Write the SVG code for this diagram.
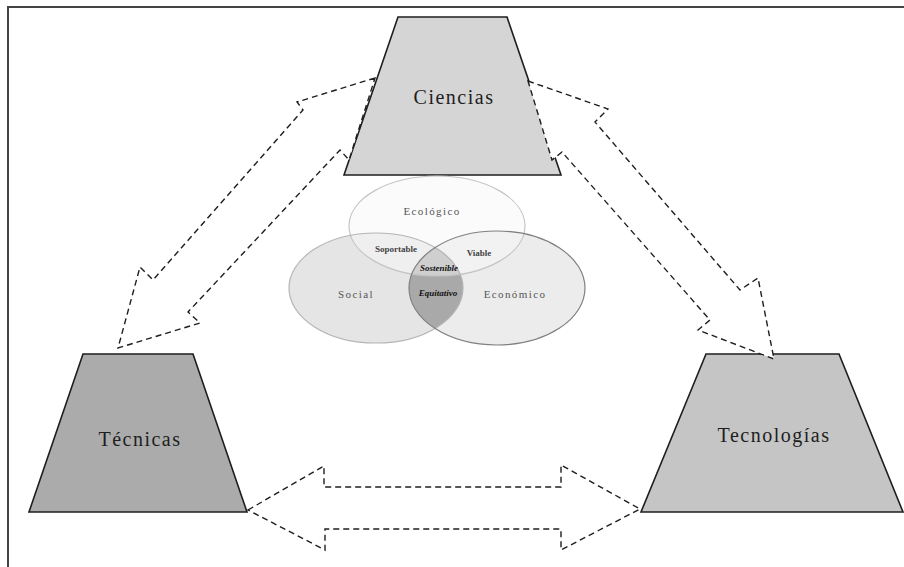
<svg xmlns="http://www.w3.org/2000/svg" width="904" height="567" viewBox="0 0 904 567">
<style>
.trap{stroke:#1e1e1e;stroke-width:1.6;stroke-linejoin:miter}
.lbl{font-family:"Liberation Serif","Times New Roman",serif;font-size:20px;letter-spacing:1.5px;fill:#1e1e1e;text-anchor:middle}
.arrow{fill:#ffffff;stroke:#1e1e1e;stroke-width:1.4;stroke-dasharray:6 4;stroke-linejoin:miter}
.vtxt{font-family:"Liberation Serif",serif;font-size:11px;letter-spacing:1.4px;fill:#555;text-anchor:middle}
.vsmall{font-family:"Liberation Serif",serif;font-size:9px;font-weight:bold;fill:#444;text-anchor:middle}
.vin{font-family:"Liberation Serif",serif;font-size:9px;font-weight:bold;font-style:italic;fill:#111;text-anchor:middle}
</style>
<defs>
<clipPath id="cSocial"><ellipse cx="376" cy="288" rx="87" ry="55"/></clipPath>
<clipPath id="cEcon"><ellipse cx="497" cy="288" rx="88" ry="57"/></clipPath>
</defs>
<rect x="0" y="0" width="904" height="567" fill="#ffffff"/>
<g id="frame" fill="none" stroke="#444" stroke-width="2">
<line x1="8" y1="7" x2="904" y2="7"/>
<line x1="8" y1="6" x2="8" y2="567"/>
</g>
<g id="ciencias">
<polygon class="trap" points="398,17 507,17 561,175 344,175" fill="#d5d5d5"/>
<text class="lbl" x="454" y="104">Ciencias</text>
</g>
<g id="tecnicas">
<polygon class="trap" points="83,354 193,354 247,512 29,512" fill="#ababab"/>
<text class="lbl" x="140" y="446">Técnicas</text>
</g>
<g id="tecnologias">
<polygon class="trap" points="706,354 839,354 903,512 641,512" fill="#c5c5c5"/>
<text class="lbl" x="774" y="442">Tecnologías</text>
</g>
<g id="venn">
<g id="social-fill"><ellipse cx="376" cy="288" rx="87" ry="55" fill="#e5e5e5"/></g>
<g id="economico-fill"><ellipse cx="497" cy="288" rx="88" ry="57" fill="#ececec"/></g>
<g id="ecologico-fill"><ellipse cx="437" cy="226" rx="88" ry="50" fill="#f8f8f8" fill-opacity="0.55"/></g>
<g id="equitativo-fill" clip-path="url(#cSocial)"><ellipse cx="497" cy="288" rx="88" ry="57" fill="#a9a9a9"/></g>
<g id="sostenible-fill" clip-path="url(#cSocial)"><g clip-path="url(#cEcon)"><ellipse cx="437" cy="226" rx="88" ry="50" fill="#cfcfcf"/></g></g>
<g id="venn-strokes" fill="none">
<ellipse cx="437" cy="226" rx="88" ry="50" stroke="#c4c4c4" stroke-width="1.2"/>
<ellipse cx="376" cy="288" rx="87" ry="55" stroke="#b5b5b5" stroke-width="1.2"/>
<ellipse cx="497" cy="288" rx="88" ry="57" stroke="#808080" stroke-width="1.2"/>
</g>
<text class="vtxt" x="432" y="215">Ecológico</text>
<text class="vtxt" x="356" y="298">Social</text>
<text class="vtxt" x="515" y="298">Económico</text>
<text class="vsmall" x="396" y="252">Soportable</text>
<text class="vsmall" x="479" y="256">Viable</text>
<text class="vin" x="439" y="271">Sostenible</text>
<text class="vin" x="438" y="296">Equitativo</text>
</g>
<g id="connectors">
<polygon class="arrow" points="375,78 297,102 303,110 153,280 140,267 118,348 200,323 188,312 340,150 349,160"/>
<polygon class="arrow" points="528,81 608,109 595,122 740,290 758,278 774,359 698,330 710,320 562,152 552,160"/>
<polygon class="arrow" points="248,510 324,466 324,487 561,487 561,465 640,509 561,550 561,529 325,529 325,550"/>
</g>
</svg>
